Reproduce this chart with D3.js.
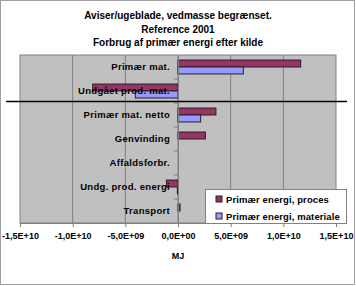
<!DOCTYPE html>
<html>
<head>
<meta charset="utf-8">
<script src="https://cdn.jsdelivr.net/npm/d3@7"></script>
<style>
  body { margin: 0; background: #fff; }
  text { font-family: Arial, "Liberation Sans", sans-serif; font-weight: bold; }
</style>
</head>
<body>
<div id="chart"></div>
<script>
var titleLines = ["Aviser/ugeblade, vedmasse begrænset.", "Reference 2001", "Forbrug af primær energi efter kilde"];
var categories = ["Primær mat.", "Undgået prod. mat.", "Primær mat. netto", "Genvinding", "Affaldsforbr.", "Undg. prod. energi", "Transport"];
var seriesNames = ["Primær energi, proces", "Primær energi, materiale"];
var proces = [1.165e10, -8.1e9, 3.6e9, 2.6e9, 0, -1.1e9, 2e8];
var materiale = [6.2e9, -4.05e9, 2.15e9, 0, 0, -6e7, 0];
var xTicks = [-1.5e10, -1e10, -5e9, 0, 5e9, 1e10, 1.5e10];
var xTickLabels = ["-1,5E+10", "-1,0E+10", "-5,0E+09", "0,0E+00", "5,0E+09", "1,0E+10", "1,5E+10"];
var colors = ["#993366", "#9999FF"];

var W = 356, H = 286;
var margin = {top: 55, right: 20, bottom: 63, left: 20};
var width = W - margin.left - margin.right,
    height = H - margin.top - margin.bottom;

var svg = d3.select("#chart").append("svg")
    .attr("width", W).attr("height", H);

// outer frame
svg.append("rect")
    .attr("x", 0.5).attr("y", 0.5)
    .attr("width", W - 2).attr("height", H - 2)
    .attr("fill", "#fff").attr("stroke", "#a0a0a0");

svg.selectAll(".title")
  .data(titleLines)
  .enter().append("text")
    .attr("x", 178).attr("y", function(d, i) { return 19 + i * 13.5; })
    .attr("text-anchor", "middle")
    .style("font-size", "10px")
    .text(function(d) { return d; });

var g = svg.append("g")
    .attr("transform", "translate(" + margin.left + "," + margin.top + ")");

var x = d3.scaleLinear().domain([-1.5e10, 1.5e10]).range([0, width]);
var y = d3.scaleBand().domain(categories).range([0, height]);

g.append("rect")
    .attr("width", width).attr("height", height)
    .attr("fill", "#c0c0c0");

// vertical gridlines
g.selectAll(".grid")
  .data(xTicks.slice(1, -1))
  .enter().append("line")
    .attr("x1", function(d) { return x(d); })
    .attr("x2", function(d) { return x(d); })
    .attr("y1", 0).attr("y2", height)
    .attr("stroke", "#808080").attr("stroke-width", 1);

g.append("rect")
    .attr("width", width).attr("height", height)
    .attr("fill", "none").attr("stroke", "#808080");

// x axis
var xAxis = g.append("g")
    .attr("transform", "translate(0," + height + ")")
    .call(d3.axisBottom(x).tickValues(xTicks)
      .tickFormat(function(d, i) { return xTickLabels[i]; })
      .tickSize(4).tickPadding(6));
xAxis.select(".domain").attr("stroke", "#808080");
xAxis.selectAll(".tick line").attr("stroke", "#808080");
xAxis.selectAll("text")
    .style("font-size", "9px").style("font-family", "Arial, 'Liberation Sans', sans-serif")
    .style("font-weight", "bold").attr("fill", "#000");

g.append("text")
    .attr("x", x(0)).attr("y", height + 36)
    .attr("text-anchor", "middle")
    .style("font-size", "9px")
    .text("MJ");

// bars
var barH = y.bandwidth() * 0.29;
var offset = y.bandwidth() / 2 - barH;
[proces, materiale].forEach(function(vals, s) {
  g.selectAll(".bar" + s)
    .data(vals)
    .enter().append("rect")
      .attr("x", function(d) { return x(Math.min(0, d)); })
      .attr("y", function(d, i) { return y(categories[i]) + offset + s * barH; })
      .attr("width", function(d) { return Math.abs(x(d) - x(0)); })
      .attr("height", barH)
      .attr("fill", colors[s])
      .attr("stroke", "#222")
      .attr("stroke-width", 1)
      .style("display", function(d) { return d === 0 ? "none" : null; });
});

// category axis at zero
var yAxis = g.append("g")
    .attr("transform", "translate(" + x(0) + ",0)")
    .call(d3.axisLeft(y).tickSize(0).tickPadding(8));
yAxis.select(".domain").attr("stroke", "#808080");
yAxis.selectAll("text")
    .style("font-size", "9.5px").style("font-family", "Arial, 'Liberation Sans', sans-serif")
    .style("letter-spacing", "0.3px")
    .style("font-weight", "bold").attr("fill", "#000");
g.selectAll(".ytick")
  .data(categories.slice(1))
  .enter().append("line")
    .attr("x1", x(0) - 4).attr("x2", x(0))
    .attr("y1", function(d) { return y(d); })
    .attr("y2", function(d) { return y(d); })
    .attr("stroke", "#808080");

// separator line
svg.append("line")
    .attr("x1", 6).attr("x2", 347)
    .attr("y1", margin.top + y(categories[2]) - 1.5)
    .attr("y2", margin.top + y(categories[2]) - 1.5)
    .attr("stroke", "#000").attr("stroke-width", 1.5);

// legend
var leg = svg.append("g").attr("transform", "translate(205,189)");
leg.append("rect")
    .attr("x", 0.5).attr("y", 0.5)
    .attr("width", 141).attr("height", 34)
    .attr("fill", "#fff").attr("stroke", "#808080");
seriesNames.forEach(function(name, i) {
  leg.append("rect")
      .attr("x", 11).attr("y", 7 + i * 17)
      .attr("width", 6).attr("height", 6)
      .attr("fill", colors[i]).attr("stroke", "#222");
  leg.append("text")
      .attr("x", 21).attr("y", 13.5 + i * 17)
      .style("font-size", "9.5px")
      .style("letter-spacing", "0.1px")
      .text(name);
});
</script>
</body>
</html>
